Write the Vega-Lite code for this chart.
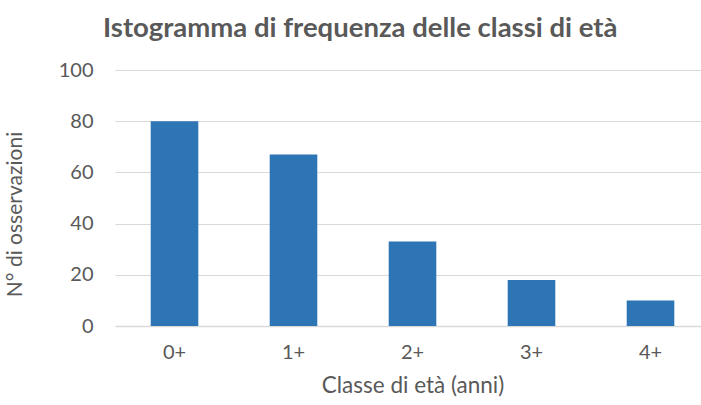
{
  "$schema": "https://vega.github.io/schema/vega-lite/v6.json",
  "autosize": {"type": "none"},
  "padding": {"left": 115, "top": 70, "right": 0, "bottom": 79},
  "width": 595,
  "height": 256,
  "background": "white",
  "title": {
    "text": "Istogramma di frequenza delle classi di età",
    "anchor": "start",
    "frame": "group",
    "dx": -12,
    "offset": 18,
    "font": "Lato",
    "fontSize": 27.5,
    "fontWeight": "bold",
    "color": "#595959"
  },
  "config": {
    "view": {"stroke": null},
    "font": "Lato"
  },
  "data": {
    "values": [
      {"classe": "0+", "n": 80},
      {"classe": "1+", "n": 67},
      {"classe": "2+", "n": 33},
      {"classe": "3+", "n": 18},
      {"classe": "4+", "n": 10}
    ]
  },
  "mark": {"type": "bar", "color": "#2E75B6"},
  "encoding": {
    "x": {
      "field": "classe",
      "type": "nominal",
      "sort": null,
      "scale": {"paddingInner": 0.6, "paddingOuter": 0.3},
      "axis": {
        "title": "Classe di età (anni)",
        "labelAngle": 0,
        "labelFont": "Lato",
        "labelFontSize": 20,
        "labelColor": "#595959",
        "labelPadding": 16,
        "ticks": false,
        "domainColor": "#D9D9D9",
        "domainWidth": 1.5,
        "titleFont": "Lato",
        "titleFontSize": 22.5,
        "titleFontWeight": "normal",
        "titleColor": "#595959",
        "titlePadding": 12
      }
    },
    "y": {
      "field": "n",
      "type": "quantitative",
      "scale": {"domain": [0, 100]},
      "axis": {
        "title": "N° di osservazioni",
        "values": [0, 20, 40, 60, 80, 100],
        "domain": false,
        "ticks": false,
        "grid": true,
        "gridColor": "#D9D9D9",
        "gridWidth": 1.2,
        "labelFont": "Lato",
        "labelFontSize": 20,
        "labelColor": "#595959",
        "labelPadding": 22,
        "titleFont": "Lato",
        "titleFontSize": 21,
        "titleFontWeight": "normal",
        "titleColor": "#595959",
        "titleX": -90,
        "titleY": 144
      }
    }
  }
}
